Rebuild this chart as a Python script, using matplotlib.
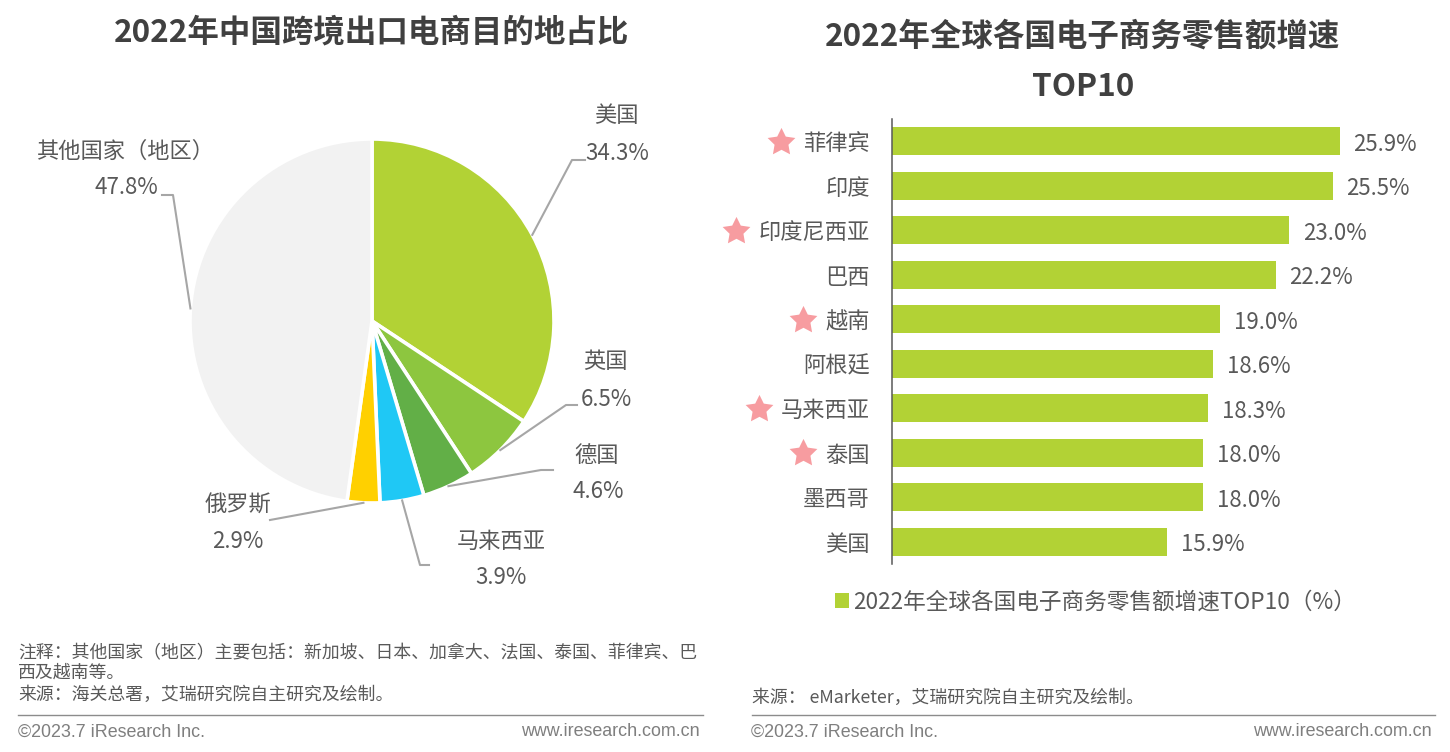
import matplotlib
matplotlib.use('Agg')
import math
import matplotlib.pyplot as plt
from matplotlib.path import Path

plt.rcParams['font.family'] = ['Noto Sans CJK SC', 'DejaVu Sans']

W, H = 1450, 752

# left chart data
pie_names = ['美国', '英国', '德国', '马来西亚', '俄罗斯', '其他国家（地区）']
pie_values = [34.3, 6.5, 4.6, 3.9, 2.9, 47.8]
pie_colors = ['#B2D235', '#8DC63F', '#62AF47', '#1FC8F5', '#FFD000', '#F2F2F2']

# right chart data
bar_names = ['菲律宾', '印度', '印度尼西亚', '巴西', '越南', '阿根廷', '马来西亚', '泰国', '墨西哥', '美国']
bar_values = [25.9, 25.5, 23.0, 22.2, 19.0, 18.6, 18.3, 18.0, 18.0, 15.9]
starred = ['菲律宾', '印度尼西亚', '越南', '马来西亚', '泰国']

GREY = '#595959'
DARK = '#404040'
LINE = '#A6A6A6'


def px_axes(left, top, right, bottom):
    return fig.add_axes([left / W, 1 - bottom / H, (right - left) / W, (bottom - top) / H])


fig = plt.figure(figsize=(W / 100, H / 100), dpi=100, facecolor='white')

# overlay in pixels for titles, leaders, footers
ov = fig.add_axes([0, 0, 1, 1], zorder=5)
ov.set_xlim(0, W)
ov.set_ylim(H, 0)
ov.axis('off')
ov.patch.set_alpha(0)

# pie
cx, cy, r = 372, 321, 182
ax1 = px_axes(cx - r, cy - r, cx + r, cy + r)
wedges, _ = ax1.pie(pie_values, colors=pie_colors, startangle=90, counterclock=False, radius=1,
                    wedgeprops={'edgecolor': 'white', 'linewidth': 2.6})
ax1.set_xlim(-1, 1)
ax1.set_ylim(-1, 1)

# elbow and end of each leader, then label centre
leaders = [
    ((572, 160), (585, 160), (616, 116), (617, 153)),
    ((566, 405), (577, 405), (605, 362), (606, 399)),
    ((541, 470), (553, 470), (597, 455), (598, 492)),
    ((420, 565), (429, 565), (501, 541), (501, 578)),
    ((270, 520), (270, 520), (238, 505), (238, 542)),
    ((173, 195), (162, 195), (125, 151), (126, 188)),
]
for w, name, val, (elbow, end, p_name, p_val) in zip(wedges, pie_names, pie_values, leaders):
    mid = math.radians((w.theta1 + w.theta2) / 2)
    sx = cx + r * math.cos(mid)
    sy = cy - r * math.sin(mid)
    ov.plot([sx, elbow[0], end[0]], [sy, elbow[1], end[1]], color=LINE, lw=1.5)
    ov.text(p_name[0], p_name[1], name, fontsize=16, color=GREY, ha='center', va='center')
    ov.text(p_val[0], p_val[1], f'{val}%', fontsize=16, color=GREY, ha='center', va='center')

# bars
ax2 = px_axes(892, 119, 892 + 30 * 17.28, 564)
bars = ax2.barh(bar_names, bar_values, height=0.63, color='#B2D235', label='2022年全球各国电子商务零售额增速TOP10（%）')
ax2.set_xlim(0, 30)
ax2.set_ylim(9.5, -0.5)
value_labels = ax2.bar_label(bars, labels=[f'{v:.1f}%' for v in bar_values], padding=10, fontsize=16, color=GREY)
for t in value_labels:
    t.xyann = (10, -2)
ax2.xaxis.set_visible(False)
ax2.tick_params(axis='y', length=0, pad=16, labelsize=16, labelcolor=GREY)
for s in ['top', 'right', 'bottom']:
    ax2.spines[s].set_visible(False)
ax2.spines['left'].set_color('#595959')
ax2.spines['left'].set_linewidth(1.1)
ax2.patch.set_alpha(0)

# stars sit left of the tick label, width depends on its length
star = Path.unit_regular_star(5, innerCircle=0.5)
for i, name in enumerate(bar_names):
    if name in starred:
        sx = 870 - len(name) * 22.3 - 22
        ov.plot(sx, 119.5 + (i + 0.5) * 44.5, marker=star, ms=21, color='#F79CA0', mew=0)

leg = fig.legend(loc='center left', bbox_to_anchor=(815 / W, 1 - 602 / H), frameon=False, fontsize=16.3,
                 labelcolor=GREY, handlelength=0.6, handleheight=0.6, handletextpad=0.2)

# titles
ov.text(372, 32, '2022年中国跨境出口电商目的地占比', fontsize=22.7, fontweight='bold', color=DARK, ha='center', va='center')
ov.text(1083, 37, '2022年全球各国电子商务零售额增速', fontsize=22.7, fontweight='bold', color=DARK, ha='center', va='center')
ov.text(1083, 87, 'TOP10', fontsize=22.7, fontweight='bold', color=DARK, ha='center', va='center')

# notes
ov.text(18, 653, '注释：其他国家（地区）主要包括：新加坡、日本、加拿大、法国、泰国、菲律宾、巴', fontsize=12.85, color=GREY, va='center')
ov.text(18, 673, '西及越南等。', fontsize=12.85, color=GREY, va='center')
ov.text(18, 695, '来源：海关总署，艾瑞研究院自主研究及绘制。', fontsize=12.85, color=GREY, va='center')
ov.text(752, 698, '来源： eMarketer，艾瑞研究院自主研究及绘制。', fontsize=12.85, color=GREY, va='center')

# footer
for x0, x1, xt, xr in [(18, 703, 18, 700), (752, 1435, 751, 1432)]:
    ov.plot([x0, x1], [715, 715], color='#8C8C8C', lw=1)
    ov.text(xt, 732, '©2023.7 iResearch Inc.', fontsize=12.9, family='Liberation Sans', color='#7F7F7F', va='center')
    ov.text(xr, 732, 'www.iresearch.com.cn', fontsize=12.9, family='Liberation Sans', color='#7F7F7F', va='center', ha='right')

fig.savefig('out.png', dpi=100)
